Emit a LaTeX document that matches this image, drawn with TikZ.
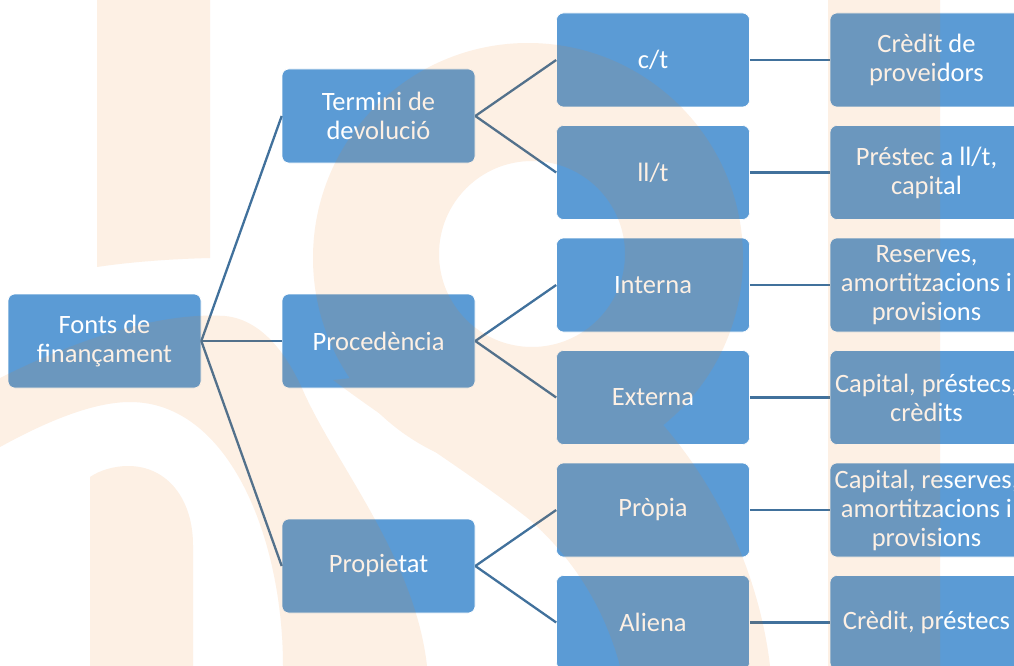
\documentclass[tikz,border=0pt]{standalone}
\usepackage{fontspec}
\setmainfont{Carlito}
\definecolor{boxblue}{RGB}{91,155,213}
\definecolor{linkblue}{RGB}{65,113,156}
\definecolor{wmorange}{RGB}{237,119,10}
\tikzset{
  box/.style={draw=white, line width=0.6pt, fill=boxblue, rounded corners=7pt,
    minimum width=193pt, minimum height=94pt, inner sep=0pt, text=white,
    align=center, font=\fontsize{26.5}{29}\selectfont},
  link/.style={draw=linkblue, line width=2.3pt},
  wm/.style={fill=wmorange},
}
\begin{document}
\begin{tikzpicture}[x=1pt,y=-1pt]
\useasboundingbox (0,0) rectangle (1014,666);
\clip (0,0) rectangle (1014,666);
\fill[white] (0,0) rectangle (1014,666);

% nodes
\node[box] (fonts) at (104.5,341) {Fonts de\\finançament};
\node[box] (termini) at (378.5,116) {Termini de\\devolució};
\node[box] (proced) at (378.5,341) {Procedència};
\node[box] (propietat) at (378.5,566) {Propietat};

\node[box] (ct) at (653,60) {c/t};
\node[box] (llt) at (653,172.5) {ll/t};
\node[box] (interna) at (653,285) {Interna};
\node[box] (externa) at (653,397.5) {Externa};
\node[box] (propia) at (653,510) {Pròpia};
\node[box] (aliena) at (653,622.5) {Aliena};

\node[box] (credprov) at (926.5,60) {Crèdit de\\proveidors};
\node[box] (prestec) at (926.5,172.5) {Préstec a ll/t,\\capital};
\node[box] (reserves) at (926.5,285) {Reserves,\\amortitzacions i\\provisions};
\node[box] (capprest) at (926.5,397.5) {Capital, préstecs,\\crèdits};
\node[box] (capres) at (926.5,510) {Capital, reserves,\\amortitzacions i\\provisions};
\node[box] (credprest) at (926.5,622.5) {Crèdit, préstecs};

% connectors
\draw[link] (fonts.east) -- (termini.west);
\draw[link] (fonts.east) -- (proced.west);
\draw[link] (fonts.east) -- (propietat.west);
\draw[link] (termini.east) -- (ct.west);
\draw[link] (termini.east) -- (llt.west);
\draw[link] (proced.east) -- (interna.west);
\draw[link] (proced.east) -- (externa.west);
\draw[link] (propietat.east) -- (propia.west);
\draw[link] (propietat.east) -- (aliena.west);
\draw[link] (ct.east) -- (credprov.west);
\draw[link] (llt.east) -- (prestec.west);
\draw[link] (interna.east) -- (reserves.west);
\draw[link] (externa.east) -- (capprest.west);
\draw[link] (propia.east) -- (capres.west);
\draw[link] (aliena.east) -- (credprest.west);

% watermark
\begin{scope}[transparency group, opacity=0.11]
  \fill[wm] (97,0) -- (210,0) -- (210,258) .. controls (170,259) and (130,262) .. (97,267) -- cycle;
  \fill[wm] (90,666) -- (90,477) .. controls (100,470) and (115,466) .. (128,466)
     .. controls (168,466) and (193,500) .. (193,545) -- (193,666) -- cycle;
  \fill[wm] (0,378) .. controls (80,338) and (160,312) .. (225,316)
     .. controls (265,320) and (290,360) .. (305,395)
     .. controls (340,470) and (415,560) .. (427,666) -- (283,666)
     .. controls (283,540) and (230,402) .. (130,402)
     .. controls (90,402) and (40,425) .. (0,447) -- cycle;
  \fill[wm, even odd rule] (528,258) circle[radius=215] (532,254) circle[radius=93];
  \fill[wm] (333,380) .. controls (400,430) and (480,480) .. (530,520)
     .. controls (575,560) and (605,610) .. (620,666) -- (770,666)
     .. controls (760,580) and (720,480) .. (640,400) -- (560,355) -- cycle;
  \fill[wm] (828,0) rectangle (940,666);
\end{scope}
\end{tikzpicture}
\end{document}
